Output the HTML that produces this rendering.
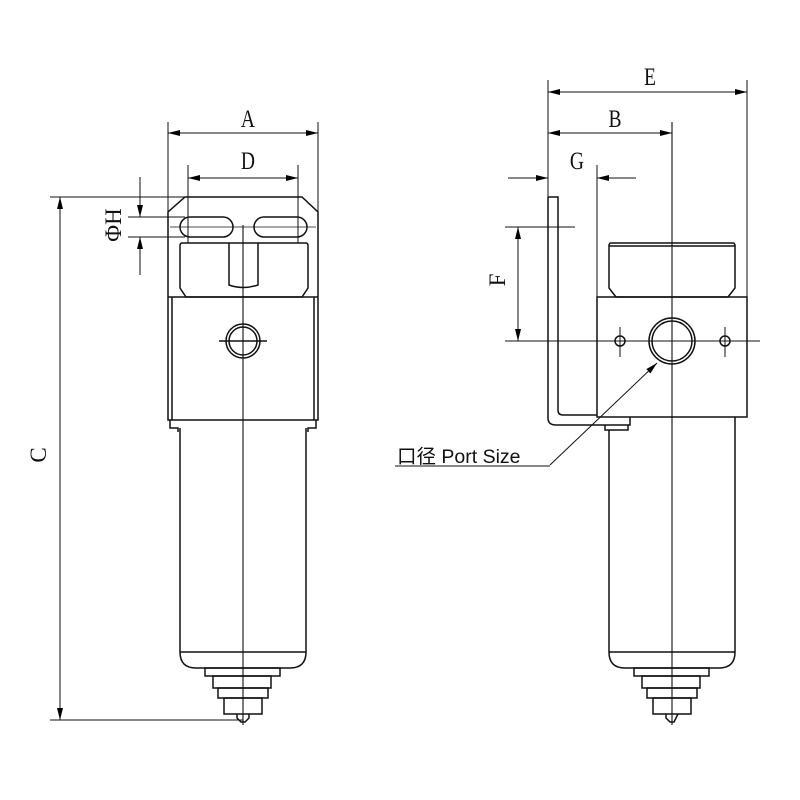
<!DOCTYPE html>
<html><head><style>body{margin:0;background:#fff}svg{display:block}</style></head><body>
<svg width="800" height="800" viewBox="0 0 800 800" xmlns="http://www.w3.org/2000/svg" font-family="Liberation Serif, serif">
<defs>
<marker id="a" viewBox="0 0 12 6" refX="12" refY="3" markerWidth="12" markerHeight="6" orient="auto-start-reverse" markerUnits="userSpaceOnUse"><path d="M0,0L12,3L0,6z" fill="#000"/></marker>
</defs>
<g fill="none" stroke="#111" stroke-width="1.5">
<path d="M185,197H302L318,212V420H168V212Z"/>
<line x1="168" y1="297" x2="318" y2="297"/>
<line x1="172" y1="297" x2="172" y2="420"/><line x1="314" y1="297" x2="314" y2="420"/>
<rect x="180" y="217" width="53" height="20" rx="10"/>
<rect x="254" y="217" width="53" height="20" rx="10"/>
<line x1="170" y1="227" x2="316" y2="227" stroke-width="0.8"/>
<path d="M182,243H306Q308,243 308,246V288L302,297H186L180,288V246Q180,243 182,243Z"/>
<path d="M229,243V285Q243,290 258,285V243"/>
<circle cx="243" cy="341" r="17"/><circle cx="243" cy="341" r="14"/>
<line x1="219" y1="341" x2="267" y2="341"/>
<path d="M170,420V428H178V432M316,420V428H308V432"/>
<path d="M180,428V652Q180,668 196,668H290Q306,668 306,652V428"/>
<line x1="180" y1="652" x2="306" y2="652"/>
<rect x="205" y="668" width="75" height="8"/>
<rect x="213" y="676" width="58" height="12"/>
<rect x="218" y="688" width="50" height="10"/>
<rect x="224" y="698" width="38" height="16"/>
<path d="M237,714V718L241,722H245L249,718V714"/>
<line x1="243" y1="225" x2="243" y2="725" stroke-width="1.1"/>
<line x1="50" y1="197" x2="185" y2="197" stroke-width="1"/>
<line x1="50" y1="720" x2="243" y2="720" stroke-width="1"/>
<line x1="60" y1="197" x2="60" y2="720" stroke-width="1" marker-start="url(#a)" marker-end="url(#a)"/>
<line x1="168" y1="122" x2="168" y2="212" stroke-width="1"/><line x1="318" y1="122" x2="318" y2="212" stroke-width="1"/>
<line x1="168" y1="133" x2="318" y2="133" stroke-width="1" marker-start="url(#a)" marker-end="url(#a)"/>
<line x1="188" y1="165" x2="188" y2="243" stroke-width="1"/><line x1="298" y1="165" x2="298" y2="243" stroke-width="1"/>
<line x1="188" y1="178" x2="298" y2="178" stroke-width="1" marker-start="url(#a)" marker-end="url(#a)"/>
<line x1="128" y1="217" x2="185" y2="217" stroke-width="1"/><line x1="128" y1="237" x2="185" y2="237" stroke-width="1"/>
<line x1="140" y1="177" x2="140" y2="217" stroke-width="1" marker-end="url(#a)"/>
<line x1="140" y1="275" x2="140" y2="237" stroke-width="1" marker-end="url(#a)"/>
<path d="M611,243H733Q735,243 735,246V288L728,297H616L609,288V246Q609,243 611,243Z"/>
<line x1="609" y1="246" x2="735" y2="246"/>
<rect x="597" y="297" width="150" height="120"/>
<circle cx="672" cy="341" r="23"/><circle cx="672" cy="341" r="20"/>
<circle cx="620" cy="341" r="5"/><circle cx="725" cy="341" r="5"/>
<line x1="505" y1="341" x2="760" y2="341" stroke-width="1"/>
<line x1="620" y1="327" x2="620" y2="357" stroke-width="1"/><line x1="725" y1="327" x2="725" y2="357" stroke-width="1"/>
<path d="M548,197H558V410Q558,415 563,415H597"/>
<path d="M548,197V418Q548,425 556,425H630V417"/>
<path d="M605,425V430H628V425"/>
<path d="M609,430V652Q609,668 625,668H719Q735,668 735,652V417"/>
<line x1="609" y1="652" x2="735" y2="652"/>
<rect x="634" y="668" width="75" height="8"/>
<rect x="642" y="676" width="58" height="12"/>
<rect x="647" y="688" width="50" height="10"/>
<rect x="653" y="698" width="38" height="16"/>
<path d="M666,714V718L670,722H674L678,714"/>
<line x1="672" y1="122" x2="672" y2="725" stroke-width="1.1"/>
<line x1="548" y1="80" x2="548" y2="197" stroke-width="1"/><line x1="747" y1="80" x2="747" y2="297" stroke-width="1"/>
<line x1="548" y1="92" x2="747" y2="92" stroke-width="1" marker-start="url(#a)" marker-end="url(#a)"/>
<line x1="548" y1="133" x2="672" y2="133" stroke-width="1" marker-start="url(#a)" marker-end="url(#a)"/>
<line x1="597" y1="165" x2="597" y2="297" stroke-width="1"/>
<line x1="508" y1="178" x2="548" y2="178" stroke-width="1" marker-end="url(#a)"/>
<line x1="636" y1="178" x2="597" y2="178" stroke-width="1" marker-end="url(#a)"/>
<line x1="505" y1="227" x2="575" y2="227" stroke-width="1"/>
<line x1="518" y1="227" x2="518" y2="341" stroke-width="1" marker-start="url(#a)" marker-end="url(#a)"/>
<line x1="550" y1="465" x2="657" y2="363" stroke-width="1" marker-end="url(#a)"/>
<line x1="395" y1="466" x2="550" y2="466" stroke-width="1"/>
</g>
<g font-size="23" fill="#111" text-anchor="middle">
<text x="248" y="127" transform="translate(248,127) scale(0.85,1.1) translate(-248,-127)">A</text>
<text x="248" y="169" transform="translate(248,169) scale(0.85,1.1) translate(-248,-169)">D</text>
<text x="650" y="85" transform="translate(650,85) scale(0.85,1.1) translate(-650,-85)">E</text>
<text x="615" y="127" transform="translate(615,127) scale(0.85,1.1) translate(-615,-127)">B</text>
<text x="577" y="169" transform="translate(577,169) scale(0.85,1.1) translate(-577,-169)">G</text>
<text transform="translate(46,455) rotate(-90)">C</text>
<text transform="translate(121,225) rotate(-90)">ΦH</text>
<text transform="translate(505,280) rotate(-90)">F</text>
</g>
<text x="397" y="463" font-family="Liberation Sans, Noto Sans CJK SC, sans-serif" font-size="19.5" fill="#111">口径 Port Size</text>
</svg>
</body></html>
